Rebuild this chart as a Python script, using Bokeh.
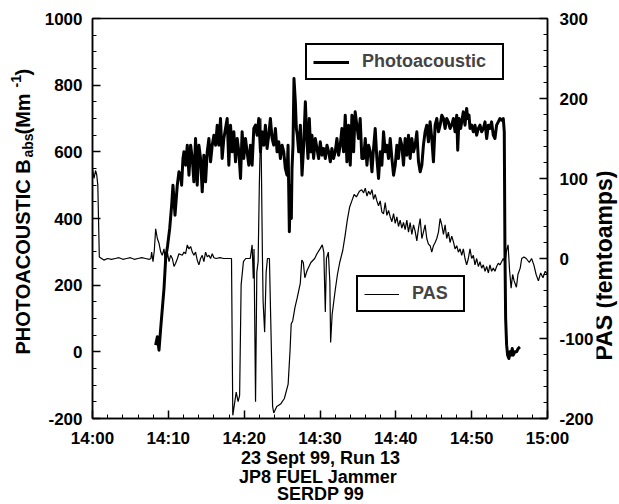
import math
from bokeh.plotting import figure
from bokeh.layouts import row, column
from bokeh.models import Range1d, LinearAxis, FixedTicker, Legend, LegendItem, Label
from bokeh.embed import file_html
from bokeh.resources import INLINE

# time axis: minutes after 14:00
x_ticks = [0, 10, 20, 30, 40, 50, 60]
x_tick_labels = ["14:00", "14:10", "14:20", "14:30", "14:40", "14:50", "15:00"]
left_ticks = [-200, 0, 200, 400, 600, 800, 1000]
left_tick_labels = ["-200", "0", "200", "400", "600", "800", "1000"]
right_ticks = [-200, -100, 0, 100, 200, 300]
right_tick_labels = ["-200", "-100", "0", "100", "200", "300"]

# Photoacoustic B_abs (Mm^-1), left axis
pa_time = [8.33, 8.55, 8.77, 8.99, 9.21, 9.43, 9.65, 9.91, 10.18, 10.44, 10.61, 10.88, 11.18, 11.40, 11.62, 11.75, 11.93,
           12.06, 12.28, 12.50, 12.72, 12.94, 13.16, 13.37, 13.59, 13.81, 14.03, 14.25, 14.47, 14.69, 14.91, 15.13, 15.35, 15.57, 15.79,
           16.01, 16.23, 16.45, 16.66, 16.88, 17.10, 17.32, 17.54, 17.76, 17.98, 18.20, 18.42, 18.64, 18.86, 19.08, 19.30, 19.52, 19.73,
           19.95, 20.17, 20.39, 20.61, 20.83, 21.05, 21.27, 21.49, 21.71, 21.93, 22.15, 22.37, 22.59, 22.80, 23.02, 23.24, 23.46, 23.68,
           23.90, 24.12, 24.34, 24.56, 24.78, 25.00, 25.22, 25.43, 25.65, 25.79, 25.96, 26.09, 26.22, 26.31, 26.44, 26.57, 26.75, 26.88,
           27.01, 27.19, 27.41, 27.63, 27.85, 28.07, 28.24, 28.42, 28.59, 28.77, 28.94, 29.16, 29.38, 29.60, 29.82, 30.04, 30.26, 30.48,
           30.70, 30.92, 31.14, 31.36, 31.57, 31.79, 32.01, 32.23, 32.45, 32.67, 32.89, 33.11, 33.33, 33.55, 33.77, 33.99, 34.21, 34.43,
           34.64, 34.86, 35.08, 35.30, 35.52, 35.75, 35.97, 36.19, 36.41, 36.63, 36.85, 37.06, 37.28, 37.50, 37.72, 37.94, 38.16, 38.38,
           38.60, 38.82, 39.04, 39.26, 39.48, 39.70, 39.92, 40.14, 40.35, 40.57, 40.79, 41.01, 41.23, 41.45, 41.67, 41.89, 42.11, 42.33,
           42.55, 42.77, 42.99, 43.21, 43.43, 43.64, 43.86, 44.08, 44.30, 44.52, 44.74, 44.96, 45.18, 45.40, 45.62, 45.84, 46.06, 46.28,
           46.50, 46.71, 46.93, 47.15, 47.37, 47.59, 47.81, 48.03, 48.16, 48.33, 48.55, 48.69, 48.90, 49.12, 49.34, 49.48, 49.65, 49.78,
           50.00, 50.22, 50.44, 50.66, 50.88, 51.10, 51.32, 51.54, 51.76, 51.98, 52.20, 52.41, 52.63, 52.85, 53.07, 53.29, 53.51, 53.73,
           53.95, 54.17, 54.30, 54.39, 54.48, 54.61, 54.74, 54.91, 55.05, 55.18, 55.35, 55.48, 55.70, 55.92, 56.14, 56.36]
pa_babs = [20, 45, 5, 70, 130, 190, 280, 320, 370, 440, 500, 410, 500, 540, 530, 500, 580,
           600, 560, 620, 530, 620, 580, 510, 640, 500, 620, 580, 480, 590, 510, 600, 640, 570, 620,
           650, 620, 680, 620, 700, 580, 640, 670, 700, 560, 680, 600, 660, 570, 640, 600, 520, 660,
           580, 640, 600, 560, 620, 560, 670, 680, 650, 700, 600, 660, 620, 680, 610, 650, 700, 640,
           620, 670, 600, 630, 580, 620, 600, 550, 530, 620, 360, 500, 400, 550, 620, 820, 750, 670,
           650, 600, 680, 530, 620, 750, 650, 580, 700, 600, 650, 580, 640, 610, 580, 630, 590, 610,
           580, 620, 600, 570, 610, 580, 600, 640, 590, 620, 670, 600, 710, 570, 680, 560, 710, 600,
           720, 680, 640, 700, 580, 580, 640, 560, 620, 600, 540, 610, 670, 580, 520, 600, 560, 660,
           600, 620, 580, 640, 580, 530, 560, 620, 580, 640, 620, 560, 640, 590, 650, 580, 640, 600,
           620, 660, 570, 540, 560, 620, 660, 680, 630, 690, 640, 570, 680, 700, 660, 680, 710, 700,
           670, 700, 690, 670, 680, 700, 660, 710, 605, 700, 670, 690, 720, 680, 730, 700, 710, 670,
           680, 660, 680, 650, 670, 680, 660, 670, 690, 640, 680, 670, 690, 650, 640, 680, 690, 700,
           695, 700, 660, 300, 100, 20, -10, -20, 0, -10, 10, -10, 0, 0, 10, 15]

# PAS (femtoamps), right axis
pas_time = [0.0, 0.2, 0.4, 0.55, 0.7, 0.9, 1.2, 1.5, 2.0, 2.5, 3.0, 3.5, 4.0, 4.5, 5.0, 5.5, 6.0, 6.5, 7.0, 7.5,
            7.7, 7.8, 7.98, 8.15, 8.33, 8.55, 8.77, 9.0, 9.2, 9.43, 9.65, 9.87, 10.09, 10.3, 10.53, 10.75, 10.96, 11.2, 11.4, 11.84,
            12.06, 12.28, 12.5, 12.72, 12.94, 13.16, 13.37, 13.59, 13.81, 14.03, 14.25, 14.47, 14.69, 14.91, 15.13, 15.35, 15.57, 15.79, 16.01, 16.3,
            16.8, 17.3, 17.8, 18.33, 18.5, 18.77, 18.95, 19.2, 19.4, 19.6, 19.9, 20.2, 20.8, 21.05, 21.2, 21.3, 21.5, 21.67, 21.84, 22.0,
            22.2, 22.4, 22.5, 22.7, 22.9, 23.07, 23.33, 23.5, 23.75, 23.9, 24.3, 24.8, 25.3, 25.8, 26.05, 26.2, 26.4, 26.7, 27.0, 27.4,
            27.6, 27.8, 28.0, 28.3, 28.8, 29.3, 29.6, 30.0, 30.3, 30.5, 30.7, 30.85, 31.1, 31.3, 31.4, 31.6, 32.0, 32.3, 32.6, 33.0,
            33.3, 33.6, 33.9, 34.2, 34.5, 34.8, 35.2, 35.5, 35.75, 35.97, 36.19, 36.41, 36.63, 36.85, 37.06, 37.28, 37.5, 37.72, 37.94, 38.16,
            38.38, 38.6, 38.82, 39.04, 39.26, 39.48, 39.7, 39.92, 40.14, 40.35, 40.57, 40.79, 41.01, 41.23, 41.45, 41.67, 41.89, 42.11, 42.33, 42.55,
            42.77, 42.99, 43.21, 43.43, 43.64, 43.86, 44.08, 44.3, 44.52, 44.74, 44.96, 45.18, 45.4, 45.62, 45.84, 46.06, 46.28, 46.5, 46.71, 46.93,
            47.15, 47.37, 47.59, 47.81, 48.03, 48.25, 48.47, 48.69, 48.9, 49.12, 49.34, 49.56, 49.78, 50.0, 50.22, 50.44, 50.66, 50.88, 51.1, 51.32,
            51.54, 51.76, 51.98, 52.2, 52.41, 52.63, 52.85, 53.07, 53.29, 53.51, 53.73, 53.95, 54.17, 54.4, 54.6, 54.8, 55.0, 55.2, 55.4, 55.6,
            55.9, 56.1, 56.4, 56.6, 56.9, 57.2, 57.6, 57.9, 58.2, 58.5, 58.8, 59.1, 59.4, 59.7, 60.0]
pas_fa = [112, 100, 110, 105, 92, 2, 0, -2, 0, -1, 0, 1, -1, 0, 1, -1, 0, 1, 0, -1,
          0, 8, -4, 10, 37, 25, 19, 8, 4, 12, -8, 8, -4, 4, 0, -10, -6, 0, 6, 4,
          8, 6, 17, 12, 15, 8, 4, 8, -2, -8, 0, 4, -4, 8, 2, 4, 0, 6, 1, 0,
          1, 0, 0, 0, -196, -179, -167, -179, -171, -33, -4, 0, 0, 17, -25, 12, -179, -17, -4, 92,
          175, 8, -54, -92, -17, 0, 0, -75, -185, -193, -185, -182, -175, -157, -115, -82, -78, -61, -49, -31,
          -2, -5, -24, -15, -5, 0, 6, 12, 17, 8, -67, 0, 8, -30, -105, -70, -40, -20, -5, 10,
          28, 48, 64, 72, 80, 77, 84, 86, 82, 88, 78, 84, 80, 86, 74, 80, 72, 66, 72, 58,
          56, 70, 54, 60, 52, 46, 56, 44, 52, 40, 48, 38, 45, 36, 48, 33, 45, 30, 42, 34,
          22, 38, 50, 25, 33, 42, 25, 18, 16, 8, 16, 20, 25, 33, 50, 42, 30, 42, 25, 33,
          20, 28, 21, 12, 16, 8, 12, 4, 12, 0, -8, 0, 12, 0, 4, -8, 0, -10, -4, -12,
          -8, -16, -10, -18, -8, -16, -12, -16, -10, -6, -8, -4, 0, -5, 10, 17, -15, -37, -20, -28,
          -36, -20, -12, 0, 2, 0, -5, 0, -8, -20, -28, -18, -24, -16, -20]

captions = ["23 Sept 99, Run 13", "JP8  FUEL Jammer", "SERDP 99"]
left_title_parts = ["PHOTOACOUSTIC B", "abs", " (Mm", "-1", ")"]
right_title = "PAS (femtoamps)"

FONT = "Liberation Sans"
W, H = 619, 504
LW, RW, TOP_H = 40, 23, 450   # side text strips and height of the plot row


def text_strip(width, height):
    f = figure(frame_width=width, frame_height=height, x_range=Range1d(0, width), y_range=Range1d(0, height),
               output_backend="svg", toolbar_location=None, x_axis_type=None, y_axis_type=None, title=None,
               min_border=0, min_border_left=0, min_border_right=0, min_border_top=0, min_border_bottom=0)
    f.grid.visible = False
    f.outline_line_color = None
    f.background_fill_color = "white"
    f.border_fill_color = "white"
    return f


def put(f, x, y, text, size, angle=0.0, align="left"):
    f.add_layout(Label(x=x, y=y, text=text, angle=angle, text_align=align, text_baseline="alphabetic",
                       text_font=FONT, text_font_style="bold", text_font_size=size, text_color="black"))


# main plot
p = figure(width=W - LW - RW, height=TOP_H, x_range=Range1d(0, 60), y_range=Range1d(-200, 1000),
           output_backend="svg", toolbar_location=None, title=None,
           min_border_left=92 - LW, min_border_right=(W - RW) - 548, min_border_top=18, min_border_bottom=TOP_H - 418)
p.extra_y_ranges = {"pas": Range1d(-200, 300)}
p.grid.visible = False
p.outline_line_color = "black"
p.outline_line_width = 1.5
p.background_fill_color = "white"
p.border_fill_color = "white"

right_axis = LinearAxis(y_range_name="pas")
p.add_layout(right_axis, "right")

p.xaxis.ticker = FixedTicker(ticks=x_ticks, minor_ticks=list(range(0, 61, 2)))
p.xaxis.major_label_overrides = dict(zip(x_ticks, x_tick_labels))
p.yaxis[0].ticker = FixedTicker(ticks=left_ticks, minor_ticks=list(range(-200, 1001, 50)))
p.yaxis[0].major_label_overrides = dict(zip(left_ticks, left_tick_labels))
right_axis.ticker = FixedTicker(ticks=right_ticks, minor_ticks=list(range(-200, 301, 20)))
right_axis.major_label_overrides = dict(zip(right_ticks, right_tick_labels))

for ax in [p.xaxis[0], p.yaxis[0], right_axis]:
    ax.major_tick_in = 8
    ax.major_tick_out = 0
    ax.minor_tick_in = 4
    ax.minor_tick_out = 0
    ax.axis_line_width = 1.5
    ax.major_tick_line_width = 1.5
    ax.minor_tick_line_width = 1
    ax.major_label_text_font = FONT
    ax.major_label_text_font_style = "bold"
    ax.major_label_text_font_size = "17px"
    ax.major_label_text_color = "black"
    ax.major_label_standoff = 10
p.xaxis.major_label_standoff = 10
right_axis.major_label_standoff = 12

pas_r = p.line(pas_time, pas_fa, y_range_name="pas", line_color="black", line_width=1.2)
pa_r = p.line(pa_time, pa_babs, line_color="black", line_width=3, line_join="round")


def legend_box(label, rend, loc, gw, lw):
    lg = Legend(items=[LegendItem(label=label, renderers=[rend])], location=loc,
                glyph_width=gw, glyph_height=20, label_standoff=13, label_width=lw, label_height=21,
                padding=6, margin=0, spacing=0,
                border_line_color="black", border_line_width=2, border_line_alpha=1,
                background_fill_color="white", background_fill_alpha=1,
                label_text_font=FONT, label_text_font_style="bold", label_text_font_size="18px")
    p.add_layout(lg)


legend_box("Photoacoustic", pa_r, (213, 338), 36, 134)
legend_box("PAS", pas_r, (264, 106), 35, 45)

# left title strip (rotated text with subscript and superscript);
# positions compensate the renderer's offset of rotated labels
up = math.pi / 2
left = text_strip(LW, TOP_H)
put(left, 22, TOP_H - 336, left_title_parts[0], "20px", angle=up)
put(left, 27, TOP_H - 139, left_title_parts[1], "14px", angle=up)
put(left, 22, TOP_H - 116, left_title_parts[2], "20px", angle=up)
put(left, 15, TOP_H - 69, left_title_parts[3], "14px", angle=up)
put(left, 22, TOP_H - 57, left_title_parts[4], "20px", angle=up)

# right title strip
right = text_strip(RW, TOP_H)
put(right, RW - 16, TOP_H - 342, right_title, "23px", angle=up)

# captions below
bottom = text_strip(W, H - TOP_H)
for cap, py in zip(captions, [457.5, 476, 493.5]):
    put(bottom, 320, H - py, cap, "18px", align="center")

layout = column(row(left, p, right, spacing=0), bottom, spacing=0)
open("out.html", "w").write(file_html(layout, INLINE))
